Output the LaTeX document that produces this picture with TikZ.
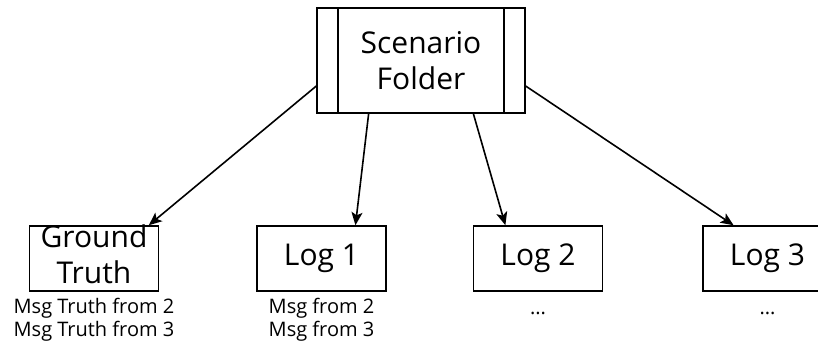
\documentclass[tikz,border=0pt]{standalone}
\usepackage{fontspec}
\setmainfont{Open Sans}
\usetikzlibrary{
    positioning,
    arrows.meta,
    calc
}
\tikzset{
    folderbox/.style={
        rectangle, draw, line width=1.5pt,
        minimum width=208pt, minimum height=105pt,
        inner sep=0pt, align=center,
        font=\fontsize{30}{36}\selectfont,
        path picture={
            \draw[line width=1.5pt] ([xshift=21pt]path picture bounding box.south west) -- ([xshift=21pt]path picture bounding box.north west);
            \draw[line width=1.5pt] ([xshift=-21pt]path picture bounding box.south east) -- ([xshift=-21pt]path picture bounding box.north east);
        }
    },
    logbox/.style={
        rectangle, draw, line width=1.5pt,
        minimum width=129pt, minimum height=65pt,
        inner sep=0pt, font=\fontsize{30}{36}\selectfont
    },
    bigtext/.style={
        align=center, inner sep=0pt, font=\fontsize{30}{36}\selectfont
    },
    msglabel/.style={
        align=center, inner sep=2pt, label distance=4pt,
        font=\fontsize{20}{23}\selectfont,
        execute at begin node=\strut
    },
    arrow/.style={
        -{Stealth[length=13pt, width=11pt, inset=3pt]}, line width=1.6pt, draw=black
    }
}
\begin{document}
\begin{tikzpicture}[x=1pt, y=-1pt]
    \useasboundingbox (0,0) rectangle (818,343);

    % TOP
    \node[folderbox] (folder) at (421,60.5) {Scenario\\Folder};

    % LEAVES
    \node[logbox, label={[bigtext, yshift=4pt]center:Ground\\Truth},
          label={[msglabel]below:Msg Truth from 2\\Msg Truth from 3}] (truth) at (94,258.5) {};
    \node[logbox, right=97pt of truth,
          label={[msglabel]below:Msg from 2\\Msg from 3}] (log1) {Log 1};
    \node[logbox, right=86pt of log1,
          label={[msglabel]below:...}] (log2) {Log 2};
    \node[logbox, right=99pt of log2,
          label={[msglabel]below:...}] (log3) {Log 3};

    % Connections
    \draw[arrow] ($(folder.south west)!0.26!(folder.north west)$) -- ($(truth.north west)!0.92!(truth.north east)$);
    \draw[arrow] ($(folder.south west)!0.25!(folder.south east)$) -- ($(log1.north west)!0.76!(log1.north east)$);
    \draw[arrow] ($(folder.south west)!0.75!(folder.south east)$) -- ($(log2.north west)!0.25!(log2.north east)$);
    \draw[arrow] ($(folder.south east)!0.26!(folder.north east)$) -- ($(log3.north west)!0.24!(log3.north east)$);

\end{tikzpicture}
\end{document}
